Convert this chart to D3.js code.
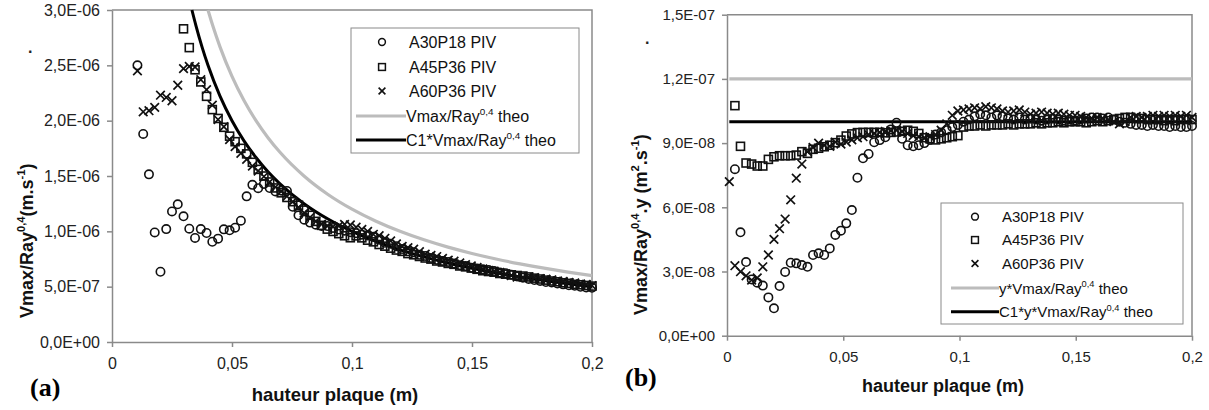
<!DOCTYPE html>
<html><head><meta charset="utf-8">
<script src="https://cdn.jsdelivr.net/npm/d3@7"></script>
<style>body{margin:0;background:#fff}svg{display:block}</style>
</head><body><svg id="c" width="1209" height="410"></svg>
<script>
// plate heights (m) of the PIV measurement points
const heights = [
0.0010,0.0034,0.0058,0.0082,0.0106,0.0130,0.0154,0.0178,0.0202,0.0226,
0.0250,0.0274,0.0298,0.0322,0.0346,0.0370,0.0394,0.0418,0.0442,0.0466,
0.0490,0.0513,0.0537,0.0561,0.0585,0.0609,0.0633,0.0657,0.0681,0.0705,
0.0729,0.0753,0.0777,0.0801,0.0825,0.0849,0.0873,0.0897,0.0921,0.0945,
0.0969,0.0993,0.1017,0.1041,0.1065,0.1089,0.1113,0.1137,0.1161,0.1185,
0.1209,0.1233,0.1257,0.1281,0.1305,0.1329,0.1353,0.1377,0.1401,0.1425,
0.1449,0.1473,0.1497,0.1521,0.1545,0.1569,0.1592,0.1616,0.1640,0.1664,
0.1688,0.1712,0.1736,0.1760,0.1784,0.1808,0.1832,0.1856,0.1880,0.1904,
0.1928,0.1952,0.1976,0.2000];

// chart (a): Vmax/Ray^0,4 in 1e-6 m.s-1 (null = off the chart)
const a30A = [
null,null,null,null,2.50,1.88,1.515,0.99,0.635,1.02,
1.18,1.244,1.136,1.024,0.94,1.02,0.985,0.906,0.934,1.018,
1.009,1.033,1.096,1.316,1.42,1.39,1.428,1.391,1.361,1.367,
1.365,1.222,1.145,1.105,1.079,1.06,1.048,1.048,1.031,1.016,
1.006,0.992,0.983,0.970,0.962,0.950,0.925,0.897,0.887,0.865,
0.840,0.819,0.811,0.788,0.778,0.760,0.743,0.733,0.724,0.709,
0.694,0.686,0.671,0.664,0.657,0.650,0.641,0.628,0.622,0.607,
0.592,0.581,0.570,0.560,0.552,0.542,0.538,0.528,0.521,0.512,
0.508,0.499,0.493,0.490];
const a45A = [
null,null,null,null,null,null,null,null,null,null,
null,null,2.83,2.66,2.46,2.35,2.22,2.10,2.02,1.94,
1.86,1.81,1.75,1.70,1.624,1.56,1.50,1.446,1.392,1.348,
1.306,1.268,1.236,1.192,1.145,1.09,1.054,1.02,0.999,0.979,
0.960,0.942,0.959,0.941,0.920,0.905,0.881,0.866,0.848,0.831,
0.819,0.799,0.788,0.773,0.759,0.749,0.732,0.723,0.710,0.702,
0.687,0.679,0.668,0.657,0.644,0.637,0.631,0.619,0.613,0.607,
0.601,0.596,0.588,0.577,0.569,0.559,0.551,0.544,0.535,0.530,
0.521,0.517,0.511,0.505];
const a60A = [
null,null,null,null,2.45,2.08,2.09,2.12,2.23,2.21,
2.18,2.32,2.47,2.49,2.485,2.37,2.28,2.14,2.01,1.945,
1.83,1.765,1.705,1.65,1.59,1.545,1.495,1.447,1.40,1.36,
1.317,1.268,1.216,1.167,1.127,1.09,1.065,1.048,1.042,1.048,
1.063,1.057,1.037,1.018,1.0,0.973,0.961,0.937,0.913,0.886,
0.864,0.852,0.839,0.816,0.793,0.783,0.772,0.755,0.739,0.730,
0.714,0.699,0.688,0.674,0.660,0.647,0.641,0.628,0.616,0.601,
0.586,0.584,0.588,0.582,0.572,0.567,0.562,0.552,0.548,0.538,
0.534,0.525,0.521,0.51];

// chart (b): Vmax/Ray^0,4 . y in 1e-8 m2.s-1
const a30B = [
null,7.78,4.83,3.44,2.63,2.48,2.34,1.79,1.28,2.32,
2.98,3.41,3.38,3.30,3.22,3.77,3.85,3.77,4.08,4.71,
4.91,5.25,5.87,7.38,8.29,8.49,9.04,9.14,9.27,9.64,
9.95,9.20,8.90,8.85,8.90,9.00,9.15,9.40,9.50,9.60,
9.75,9.85,10.0,10.1,10.25,10.35,10.3,10.2,10.3,10.25,
10.15,10.1,10.2,10.1,10.15,10.1,10.05,10.1,10.15,10.1,
10.05,10.1,10.05,10.1,10.15,10.2,10.2,10.15,10.2,10.1,
10.0,9.95,9.9,9.85,9.85,9.8,9.85,9.8,9.8,9.75,
9.8,9.75,9.75,9.8];
const a45B = [
null,10.75,8.85,8.07,8.02,7.93,7.93,8.24,8.36,8.41,
8.41,8.41,8.44,8.60,8.52,8.71,8.76,8.83,8.90,9.02,
9.14,9.33,9.43,9.49,9.50,9.50,9.50,9.50,9.48,9.50,
9.52,9.55,9.60,9.55,9.45,9.25,9.20,9.15,9.20,9.25,
9.30,9.35,9.75,9.80,9.80,9.85,9.80,9.85,9.85,9.85,
9.90,9.85,9.90,9.90,9.90,9.95,9.90,9.95,9.95,10.0,
9.95,10.0,10.0,10.0,9.95,10.0,10.05,10.0,10.05,10.1,
10.15,10.2,10.2,10.15,10.15,10.1,10.1,10.1,10.05,10.1,
10.05,10.1,10.1,10.1];
const a60B = [
7.2,3.27,2.99,2.8,2.6,2.7,3.22,3.77,4.5,5.0,
5.45,6.35,7.36,8.02,8.6,8.8,9.0,8.9,8.85,9.05,
8.95,9.05,9.15,9.25,9.3,9.4,9.45,9.5,9.55,9.58,
9.6,9.55,9.45,9.35,9.3,9.25,9.3,9.4,9.6,9.9,
10.3,10.5,10.55,10.6,10.65,10.6,10.7,10.65,10.6,10.5,
10.45,10.5,10.55,10.45,10.35,10.4,10.45,10.4,10.35,10.4,
10.35,10.3,10.3,10.25,10.2,10.15,10.2,10.15,10.1,10.0,
9.9,10.0,10.2,10.25,10.2,10.25,10.3,10.25,10.3,10.25,
10.3,10.25,10.3,10.2];

// theoretical curves
const theoGrayAX = [0.04,0.042,0.045,0.05,0.055,0.06,0.065,0.07,0.08,0.09,0.1,0.11,0.12,0.13,0.14,0.15,0.16,0.17,0.18,0.19,0.2];
const theoGrayA  = [3.0,2.857,2.667,2.4,2.182,2.0,1.846,1.714,1.5,1.333,1.2,1.091,1.0,0.923,0.857,0.8,0.75,0.706,0.667,0.632,0.6];
const theoBlackAX = [0.0333,0.035,0.0375,0.04,0.045,0.05,0.055,0.06,0.065,0.07,0.08,0.09,0.1,0.11,0.12,0.13,0.14,0.15,0.16,0.17,0.18,0.19,0.2];
const theoBlackA  = [3.0,2.857,2.667,2.5,2.222,2.0,1.818,1.667,1.538,1.429,1.25,1.111,1.0,0.909,0.833,0.769,0.714,0.667,0.625,0.588,0.556,0.526,0.5];
const theoBX = [0.001,0.2];
const theoGrayB = [12,12];
const theoBlackB = [10,10];

const seriesNames = ["A30P18 PIV","A45P36 PIV","A60P36 PIV"];
const xTickValues = [0,0.05,0.1,0.15,0.2];
const xTickLabels = ["0","0,05","0,1","0,15","0,2"];
const yTickValuesA = [0,0.5,1,1.5,2,2.5,3];
const yTickLabelsA = ["0,0E+00","5,0E-07","1,0E-06","1,5E-06","2,0E-06","2,5E-06","3,0E-06"];
const yTickValuesB = [0,3,6,9,12,15];
const yTickLabelsB = ["0,0E+00","3,0E-08","6,0E-08","9,0E-08","1,2E-07","1,5E-07"];

const SANS = "'Liberation Sans', Arial, sans-serif";
const svg = d3.select("#c");
svg.append("rect").attr("width",1209).attr("height",410).attr("fill","#fff");

function marker(g, type, cx, cy, s, sw){
  if(type===0){
    g.append("circle").attr("cx",cx).attr("cy",cy).attr("r",s).attr("fill","none").attr("stroke","#111").attr("stroke-width",sw);
  } else if(type===1){
    g.append("rect").attr("x",cx-s).attr("y",cy-s).attr("width",2*s).attr("height",2*s).attr("fill","none").attr("stroke","#111").attr("stroke-width",sw);
  } else {
    g.append("path").attr("d",`M${cx-s},${cy-s}L${cx+s},${cy+s}M${cx-s},${cy+s}L${cx+s},${cy-s}`).attr("fill","none").attr("stroke","#111").attr("stroke-width",sw+0.1);
  }
}

function supText(t, parts, fs){
  let sup=false;
  parts.forEach(p=>{
    const ts=t.append("tspan").text(p[0]);
    if(p[1] && !sup){ts.attr("font-size",fs*0.62).attr("dy",-fs*0.42);sup=true;}
    else if(!p[1] && sup){ts.attr("font-size",fs).attr("dy",fs*0.42);sup=false;}
    else ts.attr("font-size",p[1]?fs*0.62:fs);
  });
}

function panel(o){
  const g = svg.append("g");
  const x = d3.scaleLinear().domain([0,0.2]).range([o.left,o.right]);
  const y = d3.scaleLinear().domain([0,o.ymax]).range([o.bottom,o.top]);

  g.append("path").attr("d",`M${o.left},${o.top}H${o.right}V${o.bottom}`)
    .attr("fill","none").attr("stroke","#8a8a8a").attr("stroke-width",1.5);

  const ax = g.append("g").attr("transform",`translate(0,${o.bottom})`)
    .call(d3.axisBottom(x).tickValues(xTickValues).tickFormat((d,i)=>xTickLabels[i]).tickSize(5).tickSizeOuter(0).tickPadding(o.xpad));
  const ay = g.append("g").attr("transform",`translate(${o.left},0)`)
    .call(d3.axisLeft(y).tickValues(o.yTicks).tickFormat((d,i)=>o.yLabels[i]).tickSize(5).tickSizeOuter(0).tickPadding(7));
  [ax,ay].forEach(a=>{
    a.select(".domain").attr("stroke","#8a8a8a").attr("stroke-width",1.5);
    a.selectAll(".tick line").attr("stroke","#8a8a8a").attr("stroke-width",1.5);
    a.selectAll("text").attr("font-size",o.fs).attr("fill","#222").attr("font-family",SANS);
  });

  const line = d3.line().x(d=>x(d[0])).y(d=>y(d[1])).curve(d3.curveMonotoneX);
  g.append("path").datum(o.grayX.map((v,i)=>[v,o.gray[i]])).attr("d",line)
    .attr("fill","none").attr("stroke","#bcbcbc").attr("stroke-width",3.2);
  g.append("path").datum(o.blackX.map((v,i)=>[v,o.black[i]])).attr("d",line)
    .attr("fill","none").attr("stroke","#000").attr("stroke-width",3);

  o.series.forEach((vals,k)=>{
    const mg = g.append("g");
    heights.forEach((h,i)=>{
      const v = vals[i];
      if(v===null || v===undefined || v>o.ymax) return;
      marker(mg,k,x(h),y(v),k===0?4.2:(k===1?4.0:4.3),1.6);
    });
  });

  const L=o.leg;
  g.append("rect").attr("x",L.x0).attr("y",L.y0).attr("width",L.x1-L.x0).attr("height",L.y1-L.y0)
    .attr("fill","#fff").attr("stroke","#8a8a8a").attr("stroke-width",1);
  seriesNames.forEach((n,k)=>{
    marker(g,k,L.mx,L.rows[k],3.4,1.5);
    g.append("text").attr("x",L.tx).attr("y",L.rows[k]).attr("dy","0.36em")
      .attr("font-family",SANS).attr("font-size",o.fs).attr("fill","#111").text(n);
  });
  [[o.legGray,"#bcbcbc",3.2],[o.legBlack,"#000",3]].forEach((it,j)=>{
    const ry=L.rows[3+j];
    g.append("line").attr("x1",L.lx0).attr("x2",L.lx1).attr("y1",ry).attr("y2",ry)
      .attr("stroke",it[1]).attr("stroke-width",it[2]);
    const t=g.append("text").attr("x",L.tx-3).attr("y",ry).attr("dy","0.36em")
      .attr("font-family",SANS).attr("fill","#111");
    supText(t,it[0],o.fs);
  });

  g.append("text").attr("x",o.xtX).attr("y",o.xtY).attr("text-anchor","middle")
    .attr("font-family",SANS).attr("font-weight","bold").attr("font-size",o.tfs).attr("fill","#111")
    .text("hauteur plaque (m)");
  const yt=g.append("text").attr("transform",`translate(${o.ytX},${o.ytY}) rotate(-90)`)
    .attr("font-family",SANS).attr("font-weight","bold").attr("fill","#111");
  supText(yt,o.ytParts,18);
  g.append("text").attr("x",o.dotX).attr("y",o.dotY).attr("font-family",SANS).attr("font-size",16).attr("font-weight","bold").attr("fill","#222").text(".");
  g.append("text").attr("x",o.labX).attr("y",o.labY).attr("font-family","'Liberation Serif','Times New Roman',serif")
    .attr("font-weight","bold").attr("font-size",26).attr("fill","#000").text(o.lab);
}

panel({left:112,right:592,top:10,bottom:342,ymax:3,yTicks:yTickValuesA,yLabels:yTickLabelsA,fs:16,xpad:11,
  grayX:theoGrayAX,gray:theoGrayA,blackX:theoBlackAX,black:theoBlackA,
  series:[a30A,a45A,a60A],
  leg:{x0:351,x1:579,y0:28,y1:153,rows:[42,67,91,116,140],mx:382,tx:409,lx0:356,lx1:406},
  legGray:[["Vmax/Ray",false],["0,4",true],[" theo",false]],
  legBlack:[["C1*Vmax/Ray",false],["0,4",true],[" theo",false]],
  xtX:335,xtY:401,tfs:18.5,ytX:33,ytY:318,
  ytParts:[["Vmax/Ray",false],["0,4",true],["(m.s",false],["-1",true],[")",false]],
  dotX:28,dotY:53,labX:30,labY:396,lab:"(a)"});

panel({left:727,right:1192,top:14.7,bottom:335.7,ymax:15,yTicks:yTickValuesB,yLabels:yTickLabelsB,fs:15,xpad:11,
  grayX:theoBX,gray:theoGrayB,blackX:theoBX,black:theoBlackB,
  series:[a30B,a45B,a60B],
  leg:{x0:941,x1:1183,y0:203,y1:324,rows:[216.7,240,263.5,288,311.7],mx:975,tx:1002,lx0:951,lx1:999},
  legGray:[["y*Vmax/Ray",false],["0,4",true],[" theo",false]],
  legBlack:[["C1*y*Vmax/Ray",false],["0,4",true],[" theo",false]],
  xtX:943,xtY:392,tfs:18,ytX:647,ytY:315,
  ytParts:[["Vmax/Ray",false],["0,4",true],[".y (m",false],["2",true],[".s",false],["-1",true],[")",false]],
  dotX:645,dotY:44,labX:625,labY:386,lab:"(b)"});
</script></body></html>
